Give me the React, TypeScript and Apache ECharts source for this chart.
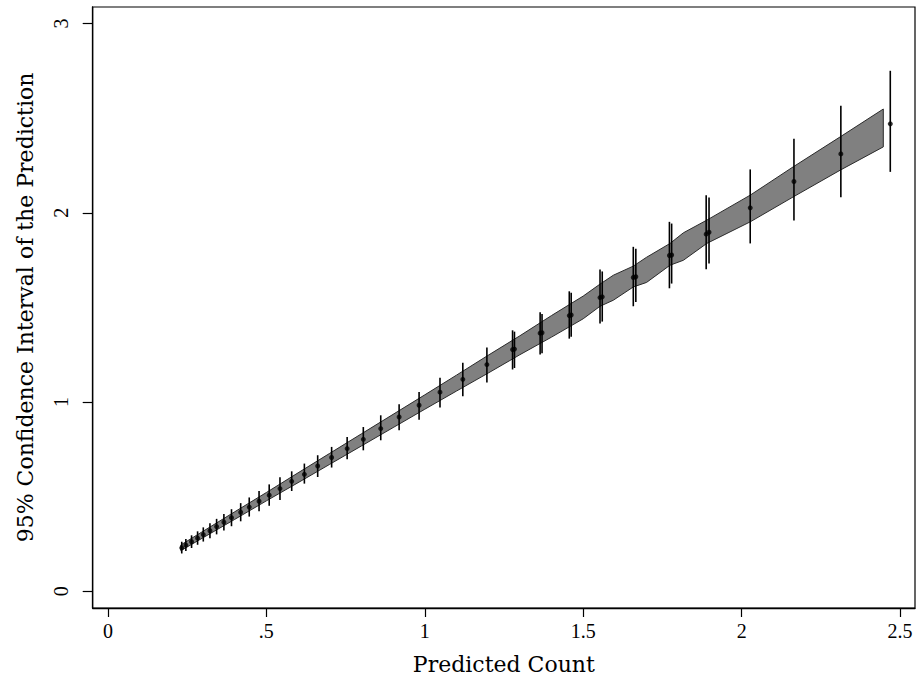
import React, { useEffect, useRef } from "react";
import * as echarts from "echarts";

// Predicted counts (x), predicted values (y) and 95% CI of each prediction
const predX = [0.233, 0.246, 0.264, 0.283, 0.301, 0.322, 0.343, 0.366, 0.39, 0.419, 0.446, 0.477, 0.509, 0.543, 0.58, 0.62, 0.662, 0.706, 0.755, 0.806, 0.861, 0.919, 0.982, 1.048, 1.12, 1.196, 1.277, 1.283, 1.364, 1.37, 1.456, 1.462, 1.553, 1.56, 1.658, 1.666, 1.772, 1.779, 1.888, 1.897, 2.027, 2.165, 2.313, 2.469];
const predY = [0.23, 0.244, 0.262, 0.281, 0.3, 0.32, 0.342, 0.365, 0.389, 0.418, 0.445, 0.476, 0.508, 0.543, 0.581, 0.618, 0.662, 0.707, 0.754, 0.803, 0.86, 0.921, 0.983, 1.052, 1.12, 1.198, 1.277, 1.28, 1.364, 1.366, 1.457, 1.46, 1.552, 1.556, 1.658, 1.662, 1.774, 1.777, 1.887, 1.897, 2.026, 2.165, 2.311, 2.47];
const ciLow = [0.2, 0.213, 0.229, 0.246, 0.263, 0.281, 0.301, 0.322, 0.344, 0.37, 0.395, 0.423, 0.452, 0.483, 0.53, 0.569, 0.604, 0.654, 0.698, 0.745, 0.798, 0.851, 0.907, 0.971, 1.031, 1.103, 1.172, 1.18, 1.251, 1.258, 1.335, 1.345, 1.415, 1.425, 1.506, 1.528, 1.601, 1.626, 1.702, 1.732, 1.838, 1.959, 2.082, 2.216];
const ciHigh = [0.262, 0.277, 0.296, 0.317, 0.338, 0.36, 0.383, 0.408, 0.434, 0.466, 0.496, 0.53, 0.565, 0.603, 0.634, 0.675, 0.719, 0.763, 0.816, 0.868, 0.93, 0.988, 1.053, 1.129, 1.207, 1.288, 1.379, 1.372, 1.475, 1.465, 1.585, 1.578, 1.7, 1.69, 1.82, 1.81, 1.952, 1.943, 2.093, 2.081, 2.229, 2.391, 2.565, 2.75];

// Shaded band (confidence interval of the prediction)
const bandX = [0.23, 0.3, 0.4, 0.5, 0.6, 0.7, 0.8, 0.9, 1.0, 1.1, 1.2, 1.3, 1.4, 1.5, 1.553, 1.595, 1.658, 1.7, 1.774, 1.816, 1.89, 2.027, 2.163, 2.311, 2.447];
const bandLow = [0.215, 0.283, 0.38, 0.478, 0.574, 0.671, 0.768, 0.865, 0.962, 1.058, 1.153, 1.25, 1.343, 1.44, 1.506, 1.538, 1.608, 1.632, 1.723, 1.749, 1.838, 1.952, 2.084, 2.225, 2.348];
const bandHigh = [0.245, 0.317, 0.42, 0.522, 0.626, 0.729, 0.832, 0.935, 1.038, 1.142, 1.247, 1.35, 1.457, 1.56, 1.623, 1.67, 1.718, 1.765, 1.838, 1.894, 1.961, 2.093, 2.243, 2.401, 2.548];

const xTicks = [0, 0.5, 1, 1.5, 2, 2.5];
const xTickLabels = ["0", ".5", "1", "1.5", "2", "2.5"];
const yTicks = [0, 1, 2, 3];
const yTickLabels = ["0", "1", "2", "3"];

const FONT = "'Liberation Serif', 'DejaVu Serif', serif";
const NAME_FONT = "'DejaVu Serif', 'Liberation Serif', serif";

export default function App() {
  const ref = useRef<HTMLDivElement>(null);
  useEffect(() => {
    const chart = echarts.init(ref.current!, null, { renderer: "svg" });
    chart.setOption({
      animation: false,
      backgroundColor: "#ffffff",
      grid: {
        left: 92.7,
        right: 2,
        top: 7,
        bottom: 75,
        show: true,
        borderColor: "#000",
        borderWidth: 1.2,
        backgroundColor: "#ffffff",
      },
      xAxis: {
        type: "value",
        min: -0.048,
        max: 2.547,
        name: "Predicted Count",
        nameLocation: "middle",
        nameGap: 45,
        nameTextStyle: { fontFamily: NAME_FONT, fontSize: 22, color: "#000" },
        axisLine: { show: true, onZero: false, lineStyle: { color: "#000", width: 1.3 } },
        axisTick: { show: true, length: 9, customValues: xTicks, lineStyle: { color: "#000", width: 1.2 } },
        axisLabel: {
          customValues: xTicks,
          margin: 13,
          fontFamily: FONT,
          fontSize: 20,
          color: "#000",
          formatter: (v: number) => {
            const i = xTicks.findIndex((t) => Math.abs(t - v) < 1e-9);
            return i >= 0 ? xTickLabels[i] : "";
          },
        },
        splitLine: { show: false },
      },
      yAxis: {
        type: "value",
        min: -0.088,
        max: 3.087,
        name: "95% Confidence Interval of the Prediction",
        nameLocation: "middle",
        nameGap: 56,
        nameTextStyle: { fontFamily: NAME_FONT, fontSize: 22, color: "#000" },
        axisLine: { show: true, onZero: false, lineStyle: { color: "#000", width: 1.3 } },
        axisTick: { show: true, length: 10, customValues: yTicks, lineStyle: { color: "#000", width: 1.2 } },
        axisLabel: {
          customValues: yTicks,
          rotate: 90,
          margin: 22,
          fontFamily: FONT,
          fontSize: 20,
          color: "#000",
          formatter: (v: number) => {
            const i = yTicks.findIndex((t) => Math.abs(t - v) < 1e-9);
            return i >= 0 ? yTickLabels[i] : "";
          },
        },
        splitLine: { show: false },
      },
      series: [
        {
          type: "custom",
          z: 1,
          data: [[bandX[0], bandLow[0]]],
          encode: { x: 0, y: 1 },
          renderItem: (_params: any, api: any) => {
            const pts: number[][] = [];
            for (let i = 0; i < bandX.length; i++) pts.push(api.coord([bandX[i], bandHigh[i]]));
            for (let i = bandX.length - 1; i >= 0; i--) pts.push(api.coord([bandX[i], bandLow[i]]));
            return {
              type: "polygon",
              shape: { points: pts },
              style: { fill: "#808080", stroke: "#2b2b2b", lineWidth: 1 },
            };
          },
        },
        {
          type: "custom",
          z: 2,
          data: predX.map((x, i) => [x, ciLow[i], ciHigh[i]]),
          encode: { x: 0, y: [1, 2] },
          renderItem: (_params: any, api: any) => {
            const a = api.coord([api.value(0), api.value(1)]);
            const b = api.coord([api.value(0), api.value(2)]);
            return {
              type: "line",
              shape: { x1: a[0], y1: a[1], x2: b[0], y2: b[1] },
              style: { stroke: "#000", lineWidth: 1.6 },
            };
          },
        },
        {
          type: "scatter",
          z: 3,
          symbol: "circle",
          symbolSize: 5,
          itemStyle: { color: "#000" },
          data: predX.map((x, i) => [x, predY[i]]),
        },
      ],
    });
    return () => chart.dispose();
  }, []);
  return (
    <div
      ref={ref}
      style={{ position: "fixed", left: 0, top: 0, width: 917, height: 683 }}
    />
  );
}
